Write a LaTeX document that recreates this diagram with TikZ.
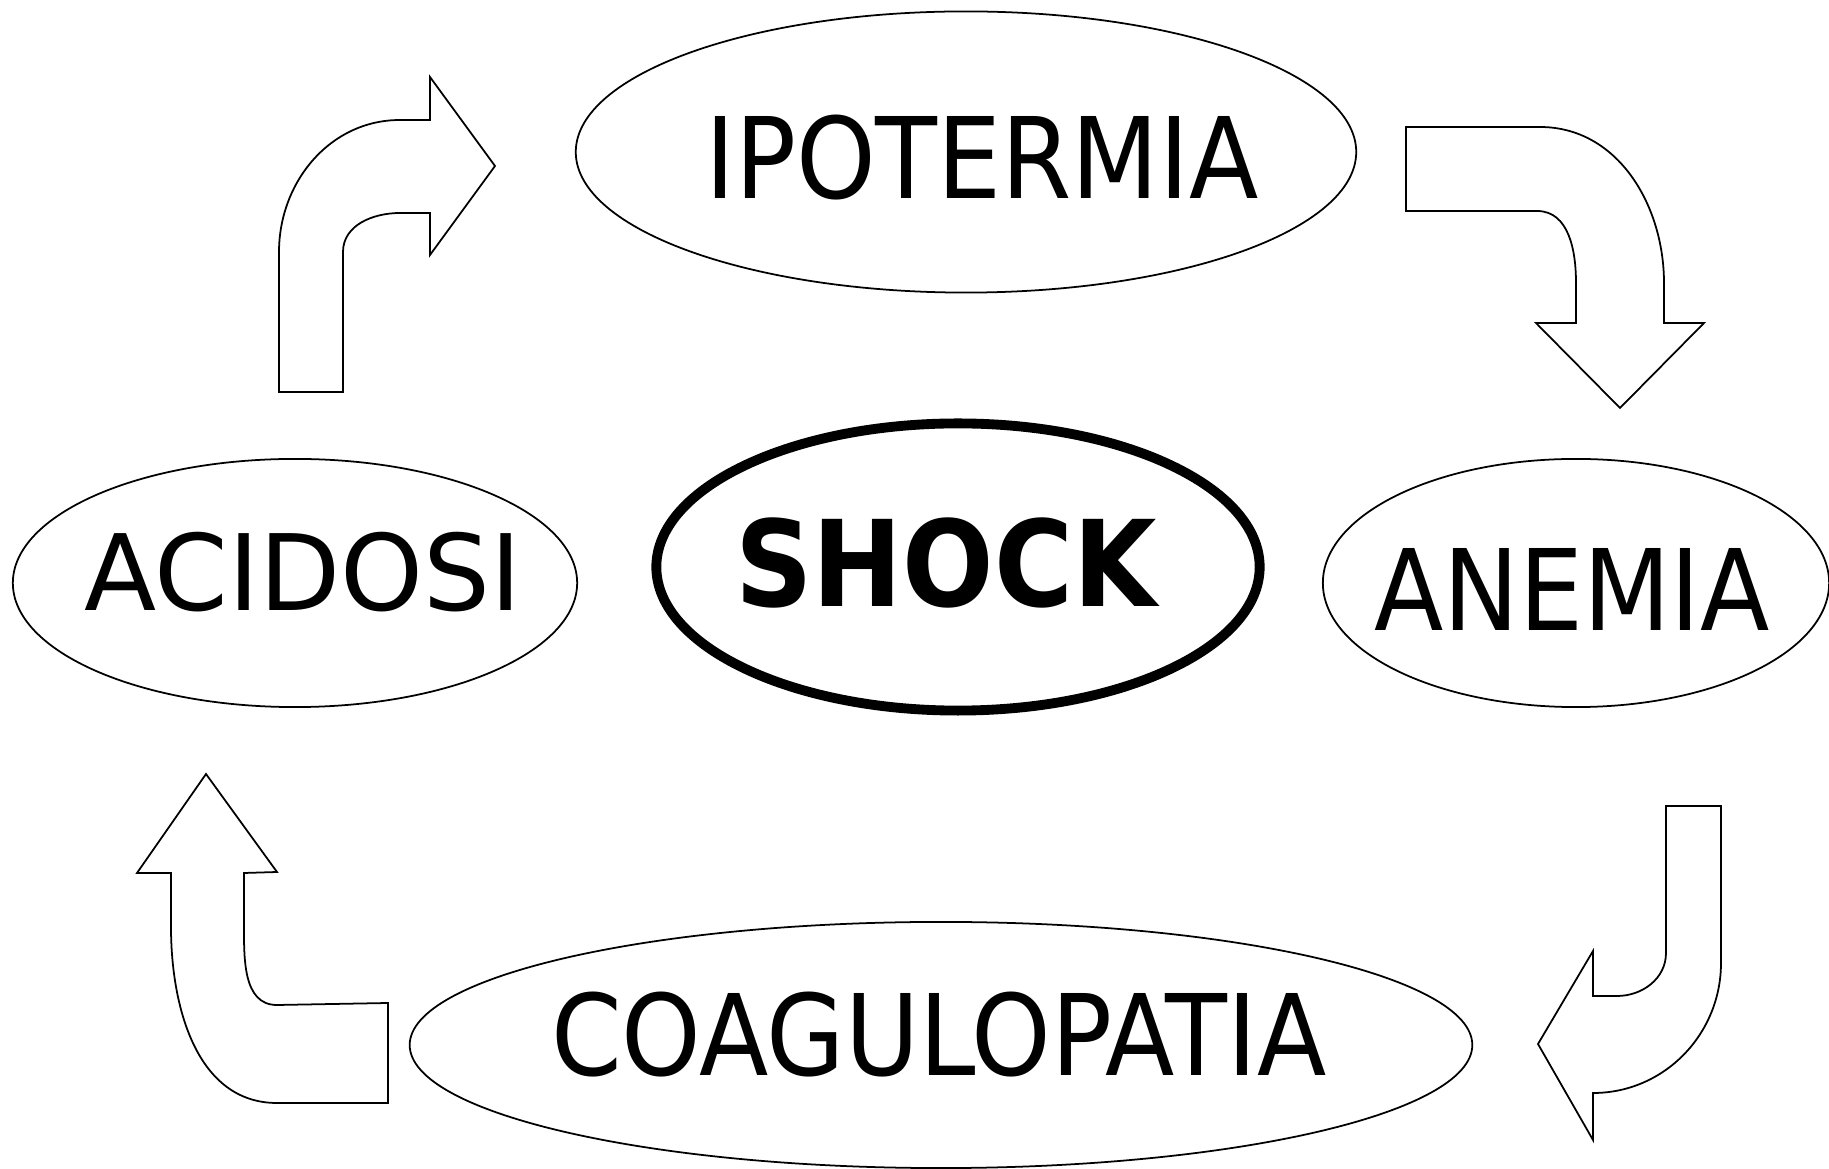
\documentclass[tikz,border=0pt]{standalone}
\usepackage{fontspec}
\setmainfont{DejaVu Sans Condensed}
\newfontfamily\widefont{DejaVu Sans}
\usetikzlibrary{shapes.geometric}

\begin{document}
\begin{tikzpicture}[x=0.01cm, y=0.01cm,
    bubble/.style={ellipse, draw, line width=0.5pt, inner sep=0pt},
    word/.style={font=\fontsize{32}{38}\selectfont},
    blockarrow/.style={draw, line width=0.5pt, line join=miter}]
  \useasboundingbox (0,0) rectangle (1829,1169);

  % the five states
  \node [bubble, minimum width=7.8cm, minimum height=2.81cm,
         label={[word, xshift=0.16cm, yshift=-0.06cm]center:IPOTERMIA}] (ipo) at (966,1017) {};
  \node [bubble, line width=2.8pt, minimum width=6.03cm, minimum height=2.87cm,
         label={[font=\fontsize{34}{40}\selectfont\bfseries, xshift=-0.12cm, yshift=0.04cm]center:SHOCK}] (shock) at (958,602) {};
  \node [bubble, minimum width=5.64cm, minimum height=2.48cm,
         label={[font=\fontsize{30}{36}\selectfont\widefont, xshift=0.08cm, yshift=0.11cm]center:ACIDOSI}] (acid) at (295,586) {};
  \node [bubble, minimum width=5.06cm, minimum height=2.48cm,
         label={[word, xshift=-0.04cm, yshift=-0.06cm]center:ANEMIA}] (anem) at (1576,586) {};
  \node [bubble, minimum width=10.62cm, minimum height=2.46cm,
         label={[word, xshift=-0.02cm, yshift=0.10cm]center:COAGULOPATIA}] (coag) at (941,124) {};

  % curved block arrows
  \draw [blockarrow] (279,777) -- (343,777) -- (343,917) to[out=90, in=180] (400,956) -- (430,956)
    -- (430,914) -- (495,1003) -- (430,1092) -- (430,1049) -- (400,1049)
    to[out=180, in=90] (279,917) -- cycle;
  \draw [blockarrow] (1406,1042) -- (1406,958) -- (1537,958) to[out=0, in=90] (1576,886) -- (1576,846)
    -- (1536,846) -- (1620,761) -- (1704,846) -- (1664,846) -- (1664,886)
    to[out=90, in=0] (1540,1042) -- cycle;
  \draw [blockarrow] (1666,363) -- (1721,363) -- (1721,206) to[out=-90, in=0] (1593,76) -- (1593,29)
    -- (1538,125) -- (1593,218) -- (1593,173) -- (1617,173)
    to[out=0, in=-90] (1666,216) -- cycle;
  \draw [blockarrow] (206,395) -- (137,296) -- (171,296) -- (171,242) to[out=-90, in=180] (277,66)
    -- (388,66) -- (388,166) -- (277,164) to[out=180, in=-90] (244,246) -- (244,296)
    -- (277,297) -- cycle;
\end{tikzpicture}
\end{document}
